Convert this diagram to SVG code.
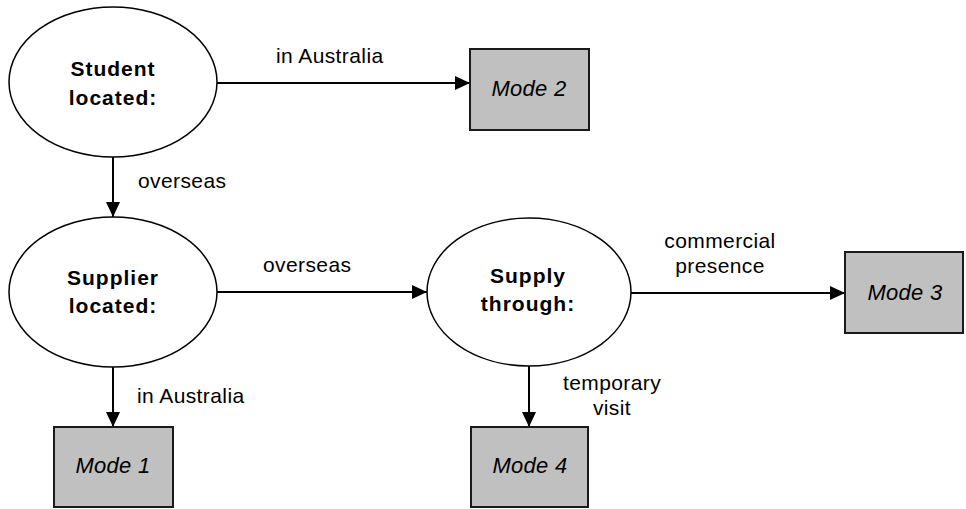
<svg xmlns="http://www.w3.org/2000/svg" width="966" height="509" viewBox="0 0 966 509">
<style>
.ell{fill:#fff;stroke:#000;stroke-width:1.5}
.box{fill:#c0c0c0;stroke:#1a1a1a;stroke-width:2}
.nt{font-family:"Liberation Sans",Arial,sans-serif;font-size:21px;font-weight:bold;letter-spacing:1px;text-anchor:middle;fill:#000}
.mt{font-family:"Liberation Sans",Arial,sans-serif;font-size:22px;font-style:italic;letter-spacing:0.3px;text-anchor:middle;fill:#000}
.lt{font-family:"Liberation Sans",Arial,sans-serif;font-size:21px;letter-spacing:0.4px;fill:#000}
.edge{stroke:#000;stroke-width:2;fill:none;marker-end:url(#ah)}
</style>
<defs>
<marker id="ah" markerWidth="15" markerHeight="14" refX="15" refY="7" orient="auto" markerUnits="userSpaceOnUse">
<path d="M0,0 L15,7 L0,14 Z" fill="#000"/>
</marker>
</defs>
<rect width="966" height="509" fill="#fff"/>
<g id="connectors">
<line class="edge" x1="217" y1="83" x2="470" y2="83"/>
<line class="edge" x1="113" y1="157" x2="113" y2="217"/>
<line class="edge" x1="217" y1="292" x2="427" y2="292"/>
<line class="edge" x1="631" y1="293" x2="845" y2="293"/>
<line class="edge" x1="113" y1="367" x2="113" y2="427"/>
<line class="edge" x1="529" y1="366" x2="529" y2="427"/>
<text class="lt" x="276" y="63">in Australia</text>
<text class="lt" x="138" y="188">overseas</text>
<text class="lt" x="263" y="272">overseas</text>
<text class="lt" x="720" y="248" text-anchor="middle">commercial</text>
<text class="lt" x="720" y="273" text-anchor="middle">presence</text>
<text class="lt" x="137" y="403">in Australia</text>
<text class="lt" x="612" y="390" text-anchor="middle">temporary</text>
<text class="lt" x="612" y="415" text-anchor="middle">visit</text>
</g>
<g id="student">
<ellipse class="ell" cx="113" cy="82" rx="104" ry="75"/>
<text class="nt" x="113" y="76">Student</text>
<text class="nt" x="113" y="105">located:</text>
</g>
<g id="supplier">
<ellipse class="ell" cx="113" cy="292" rx="104" ry="75"/>
<text class="nt" x="113" y="285">Supplier</text>
<text class="nt" x="113" y="313">located:</text>
</g>
<g id="supply">
<ellipse class="ell" cx="529" cy="292" rx="102" ry="74"/>
<text class="nt" x="528" y="283">Supply</text>
<text class="nt" x="528" y="311">through:</text>
</g>
<g id="mode2">
<rect class="box" x="470" y="49" width="119" height="81"/>
<text class="mt" x="529" y="96">Mode 2</text>
</g>
<g id="mode3">
<rect class="box" x="845" y="252" width="118" height="81"/>
<text class="mt" x="905" y="300">Mode 3</text>
</g>
<g id="mode1">
<rect class="box" x="54" y="427" width="119" height="80"/>
<text class="mt" x="113" y="473">Mode 1</text>
</g>
<g id="mode4">
<rect class="box" x="471" y="427" width="117" height="80"/>
<text class="mt" x="530" y="473">Mode 4</text>
</g>
</svg>
